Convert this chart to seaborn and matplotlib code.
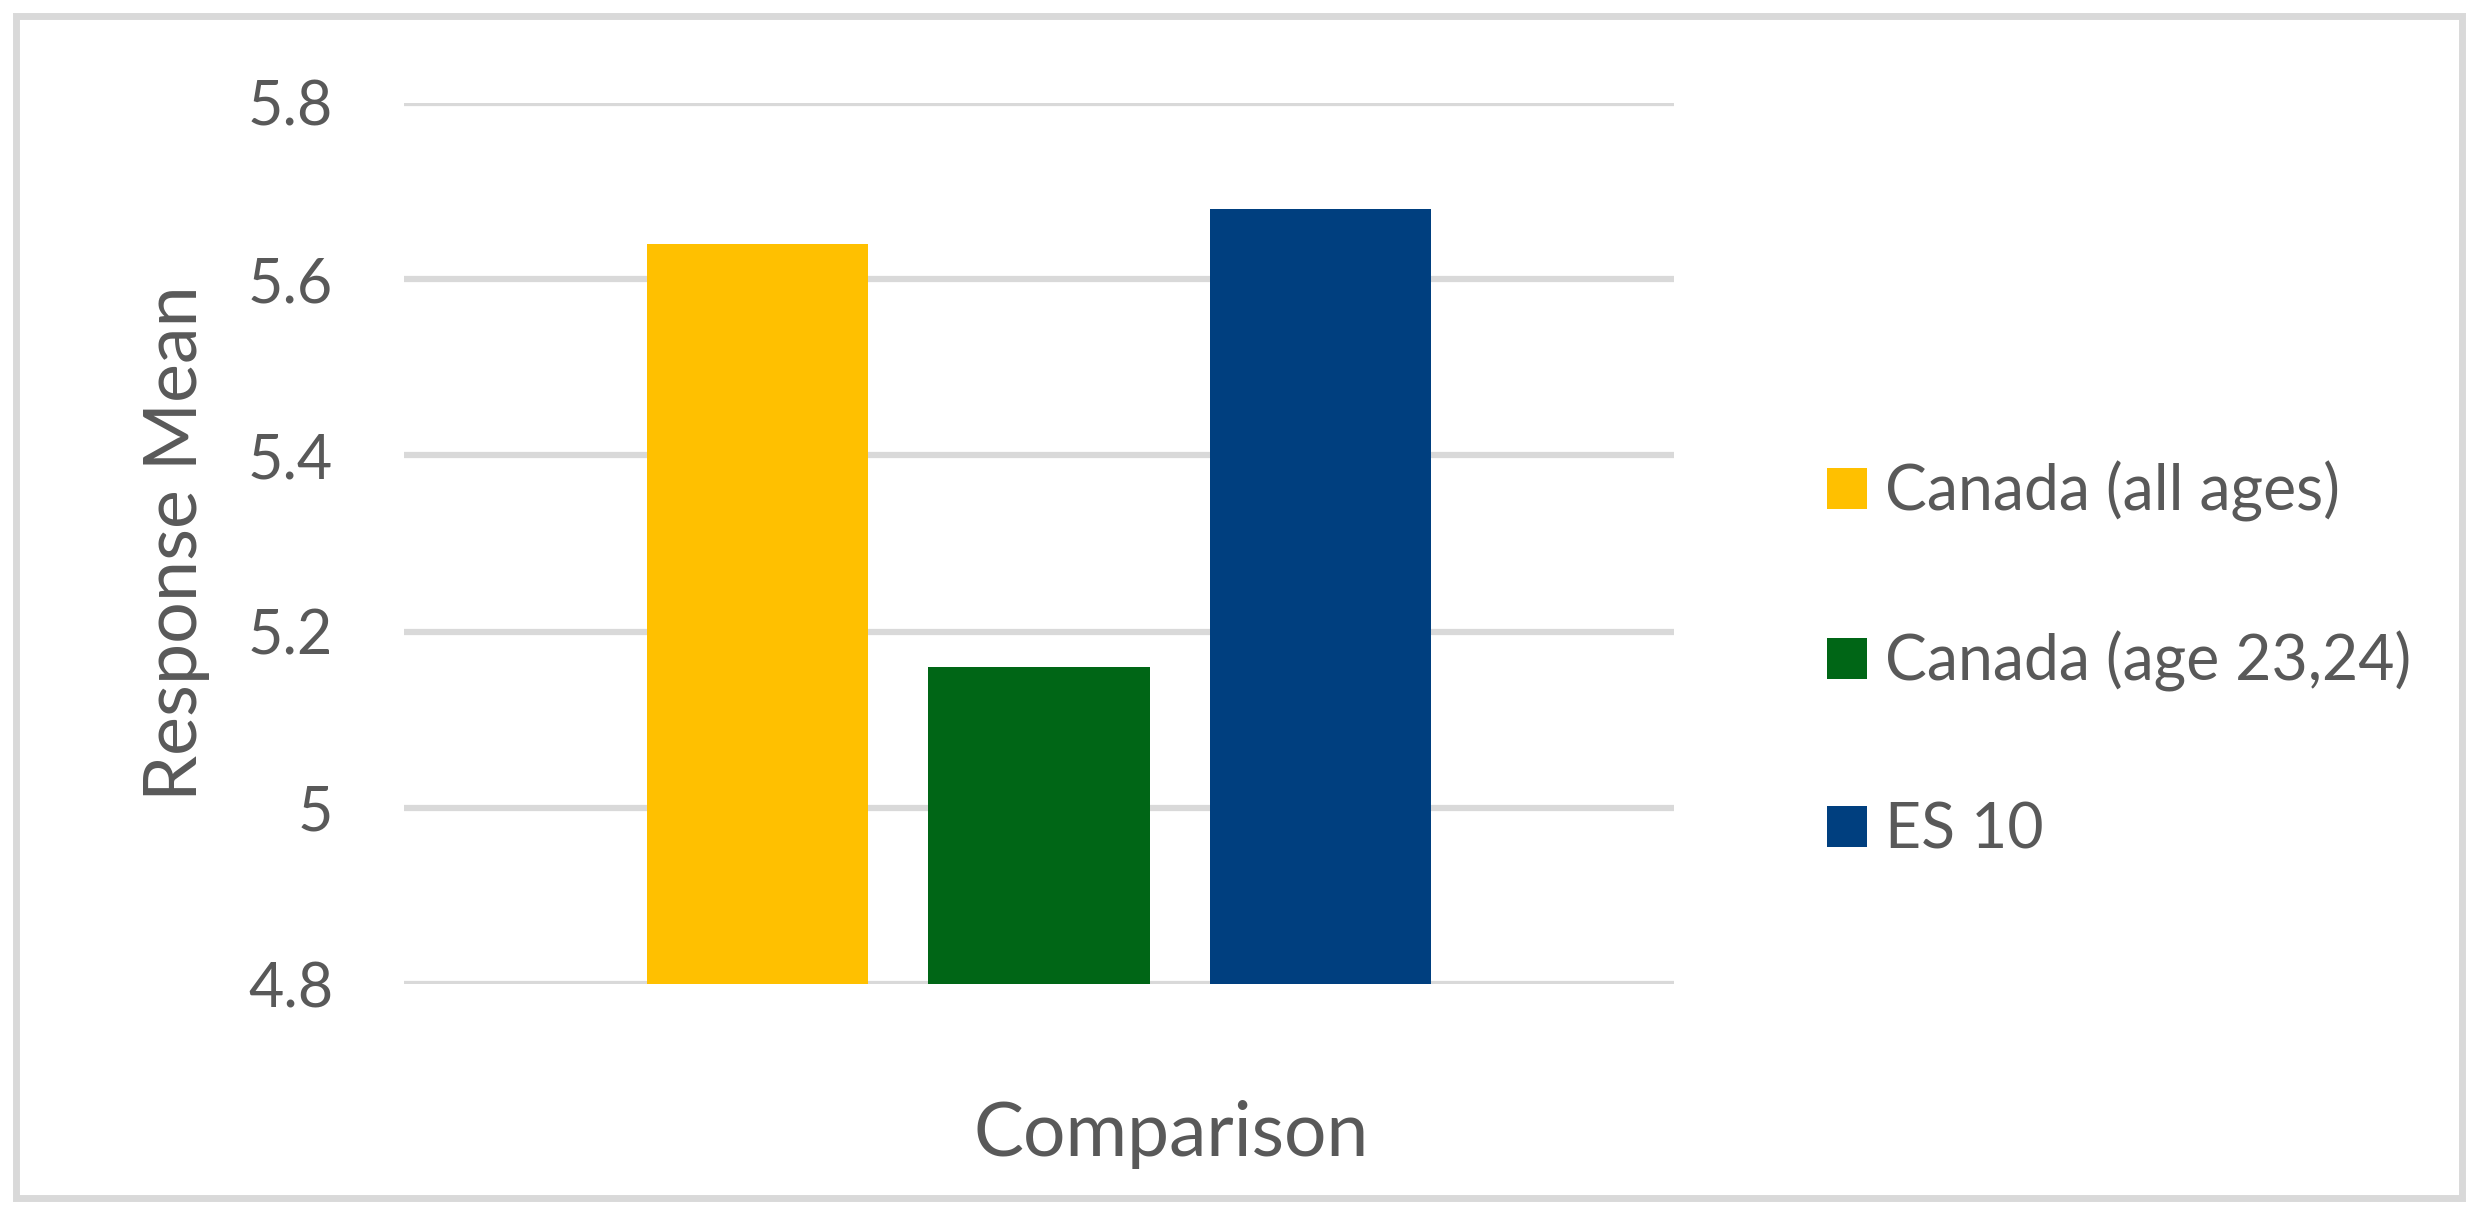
import pandas as pd
import matplotlib.pyplot as plt
import seaborn as sns
from matplotlib.patches import Rectangle

# values
category = ["Comparison", "Comparison", "Comparison"]
series = ["Canada (all ages)", "Canada (age 23,24)", "ES 10"]
means = [5.64, 5.16, 5.68]
bar_colors = ["#FFC000", "#006616", "#003F7F"]
yticks = [4.8, 5.0, 5.2, 5.4, 5.6, 5.8]
ytick_labels = ["4.8", "5", "5.2", "5.4", "5.6", "5.8"]

df = pd.DataFrame({"category": category, "series": series, "mean": means})

sns.set_style("white")
plt.rcParams["font.family"] = ["Lato", "DejaVu Sans"]
text_color = "#595959"
grid_color = "#D9D9D9"

fig = plt.figure(figsize=(24.8, 12.14), dpi=100)
ax = fig.add_axes([404 / 2480, 1 - 984 / 1214, 1270 / 2480, 881 / 1214])

sns.barplot(data=df, x="category", y="mean", hue="series", hue_order=series,
            palette=dict(zip(series, bar_colors)), width=0.665, gap=0.213,
            linewidth=0, saturation=1, errorbar=None, ax=ax, zorder=3)

ax.set_ylim(4.8, 5.8)
ax.set_xlim(-0.5, 0.5)
ax.set_yticks(yticks)
ax.set_yticklabels(ytick_labels)
ax.tick_params(axis="y", length=0, pad=51, labelsize=44, labelcolor=text_color)
ax.set_xticks([])
ax.grid(axis="y", color=grid_color, linewidth=4.5, zorder=0)
ax.set_axisbelow(True)
for s in ax.spines.values():
    s.set_visible(False)

ax.set_xlabel("Comparison", fontsize=54, color=text_color, va="center")
ax.xaxis.set_label_coords(0.604, -0.171)
ax.set_ylabel("Response Mean", fontsize=53, color=text_color, va="center")
ax.yaxis.set_label_coords(-0.179, 0.5)

ax.legend(loc="center left", bbox_to_anchor=(1827 / 2480, 1 - 660 / 1214),
          bbox_transform=fig.transFigure, frameon=False, borderpad=0,
          borderaxespad=0, fontsize=45, labelcolor=text_color,
          handlelength=0.64, handleheight=0.64, handletextpad=0.29,
          labelspacing=1.75)

fig.patches.append(Rectangle((16 / 2480, 16 / 1214), 2446 / 2480, 1182 / 1214,
                             transform=fig.transFigure, fill=False,
                             edgecolor=grid_color, linewidth=5))

fig.savefig("out.png", dpi=100, facecolor="white")
